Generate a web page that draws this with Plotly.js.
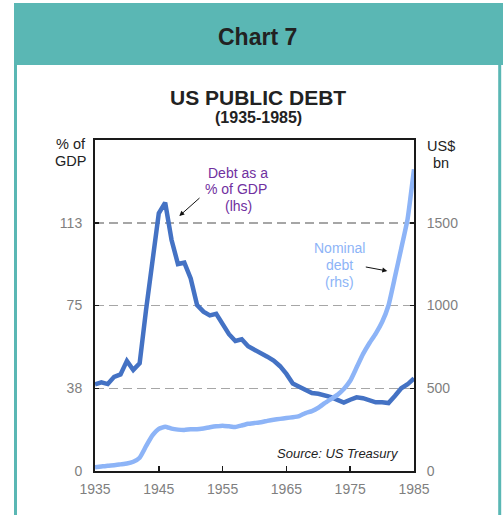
<!DOCTYPE html>
<html>
<head>
<meta charset="utf-8">
<script src="https://cdn.plot.ly/plotly-3.0.1.min.js"></script>
<style>
html,body{margin:0;padding:0;background:#fff;}
#chart{width:503px;height:515px;}
</style>
</head>
<body>
<div id="chart"></div>
<script>
// ---- data ----
var years = [1935,1936,1937,1938,1939,1940,1941,1942,1943,1944,1945,1946,1947,1948,1949,
  1950,1951,1952,1953,1954,1955,1956,1957,1958,1959,1960,1961,1962,1963,1964,1965,1966,1967,
  1968,1969,1970,1971,1972,1973,1974,1975,1976,1977,1978,1979,1980,1981,1982,1983,1984,1985];
var debtPctGDP = [39.3,40.2,39.4,42.7,43.8,49.9,45.8,48.8,73,95,116.8,121.6,104.7,93.8,94.4,
  87.3,75.2,72.2,70.5,71.2,66.5,62,58.9,59.7,56.5,55,53.6,51.8,50,47.5,44,39.7,38.2,
  36.7,35.3,35,34.4,33.5,32.2,31,32.3,33.4,33,32,31.1,31.1,30.8,34,37.5,39.3,42];
var nominalDebt = [22,27,32,35,40,45,56,80,150,215,255,268,256,250,248,
  252,252,257,264,270,274,270,266,275,285,290,295,303,310,315,320,325,332,
  350,362,382,410,435,460,495,545,625,706,772,830,900,1000,1170,1345,1524,1823];
var xTickVals = [1935,1945,1955,1965,1975,1985];
var xTickText = ['1935','1945','1955','1965','1975','1985'];
var lhsTickVals = [0,37.5,75,112.5];
var lhsTickText = ['0','38','75','113'];
var rhsTickVals = [0,500,1000,1500];
var rhsTickText = ['0','500','1000','1500'];

// ---- geometry helpers (pixel -> paper) ----
var W = 503, H = 515;
var L = 95, R = 414, T = 140, B = 471;
function px(x){ return (x - L) / (R - L); }
function py(y){ return (B - y) / (B - T); }

var FONT = 'Liberation Sans, Arial, sans-serif';
var TEAL = '#5AB7B4';

var traces = [
  {x: years, y: nominalDebt, yaxis: 'y2', type: 'scatter', mode: 'lines',
   line: {color: '#8DB4F7', width: 4.5, shape: 'spline', smoothing: 0.4}, hoverinfo: 'skip'},
  {x: years, y: debtPctGDP, yaxis: 'y', type: 'scatter', mode: 'lines',
   line: {color: '#4472C4', width: 4.5}, hoverinfo: 'skip'}
];

function txt(text, x, y, size, color, opts){
  var a = {text: text, xref: 'paper', yref: 'paper', x: px(x), y: py(y),
    showarrow: false, xanchor: 'center', yanchor: 'middle',
    font: {family: FONT, size: size, color: color}};
  if (opts) for (var k in opts) a[k] = opts[k];
  return a;
}

var annotations = [
  txt('<b>Chart 7</b>', 257, 37, 23, '#222222'),
  txt('<b>US PUBLIC DEBT</b>', 258, 97, 21, '#222222'),
  txt('<b>(1935-1985)</b>', 258, 117, 16, '#222222'),
  txt('% of', 88, 144, 14.5, '#222222', {xanchor: 'right'}),
  txt('GDP', 88, 161, 14.5, '#222222', {xanchor: 'right'}),
  txt('US$', 441, 146, 14.5, '#222222'),
  txt('bn', 441, 163, 14.5, '#222222'),
  txt('Debt as a', 238, 173, 14, '#7030A0'),
  txt('% of GDP', 236, 189, 14, '#7030A0'),
  txt('(lhs)', 238, 206, 14, '#7030A0'),
  txt('Nominal', 339, 248, 14, '#8DB4F7'),
  txt('debt', 339, 265, 14, '#8DB4F7'),
  txt('(rhs)', 339, 282, 14, '#8DB4F7'),
  txt('<i>Source: US Treasury</i>', 401, 453, 13, '#222222', {xanchor: 'right'}),
  {xref: 'paper', yref: 'paper', x: px(179.3), y: py(216), ax: 21.7, ay: -19.3,
   axref: 'pixel', ayref: 'pixel', text: '', showarrow: true, arrowhead: 2,
   arrowsize: 1, arrowwidth: 1, arrowcolor: '#111111'},
  {xref: 'paper', yref: 'paper', x: px(387.3), y: py(271), ax: -23, ay: -4.3,
   axref: 'pixel', ayref: 'pixel', text: '', showarrow: true, arrowhead: 2,
   arrowsize: 1, arrowwidth: 1, arrowcolor: '#111111'}
];

var shapes = [
  {type: 'rect', xref: 'paper', yref: 'paper', x0: px(14), x1: px(503), y0: py(65), y1: py(3),
   fillcolor: TEAL, line: {width: 0}, layer: 'below'},
  {type: 'line', xref: 'paper', yref: 'paper', x0: px(15.5), x1: px(15.5), y0: py(65), y1: py(515),
   line: {color: TEAL, width: 3}},
  {type: 'line', xref: 'paper', yref: 'paper', x0: px(499.7), x1: px(499.7), y0: py(65), y1: py(515),
   line: {color: TEAL, width: 3}}
];

var axisFont = {family: FONT, size: 14, color: '#7F7F7F'};
var layout = {
  width: W, height: H,
  margin: {l: L, r: W - R, t: T, b: H - B, pad: 0},
  paper_bgcolor: '#ffffff', plot_bgcolor: '#ffffff',
  showlegend: false,
  font: {family: FONT},
  xaxis: {range: [1935, 1985], tickvals: xTickVals, ticktext: xTickText,
    ticks: 'inside', ticklen: 5, tickwidth: 1.5, tickcolor: '#1a1a1a',
    showline: true, mirror: true, linecolor: '#1a1a1a', linewidth: 2,
    showgrid: false, zeroline: false, tickfont: axisFont, ticklabelstandoff: 4},
  yaxis: {range: [0, 150], tickvals: lhsTickVals, ticktext: lhsTickText,
    ticks: 'inside', ticklen: 4, tickwidth: 1.5, tickcolor: '#1a1a1a',
    showline: true, linecolor: '#1a1a1a', linewidth: 2,
    showgrid: true, gridcolor: '#A6A6A6', gridwidth: 1.5, griddash: '9px,5px',
    zeroline: false, tickfont: axisFont, ticklabelstandoff: 8},
  yaxis2: {range: [0, 2000], tickvals: rhsTickVals, ticktext: rhsTickText,
    overlaying: 'y', side: 'right',
    ticks: 'inside', ticklen: 4, tickwidth: 1.5, tickcolor: '#1a1a1a',
    showline: true, linecolor: '#1a1a1a', linewidth: 2,
    showgrid: false, zeroline: false, tickfont: axisFont, ticklabelstandoff: 8},
  annotations: annotations,
  shapes: shapes
};

Plotly.newPlot('chart', traces, layout, {displayModeBar: false, staticPlot: true});
</script>
</body>
</html>
